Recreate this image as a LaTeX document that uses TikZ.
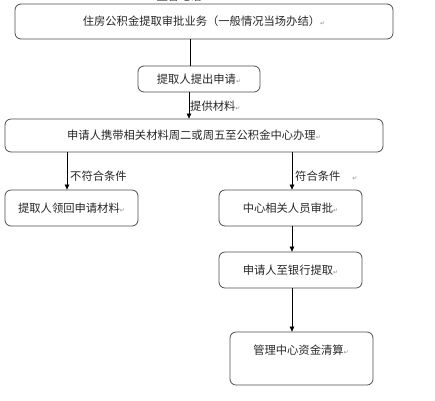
\documentclass[tikz,border=0pt]{standalone}
\usepackage{fontspec}
\setmainfont{Noto Sans CJK SC}
\newfontfamily\symf{DejaVu Sans}
\usetikzlibrary{arrows.meta}
\newcommand{\retmark}{{\color{black!45}\symf\fontsize{6}{6}\selectfont ↵}}
\begin{document}
\begin{tikzpicture}[x=1pt,y=-1pt,
  font=\fontsize{11.3}{12}\selectfont,
  box/.style={draw=black!70, rounded corners=6pt, line width=0.8pt, inner sep=0pt, text=black!85},
  conn/.style={draw=black, line width=0.7pt},
  arr/.style={conn, -{Triangle[length=5pt,width=4.5pt]}},
  lbl/.style={inner sep=1pt, text=black!85, anchor=west}]
\useasboundingbox (0,0) rectangle (435,400);
% clipped header text
\node[anchor=west, text=black!80] (hdr) at (153,-4) {监督电话：};
% boxes
\node[box, minimum width=378pt, minimum height=35pt] (b1) at (204,21.5) {住房公积金提取审批业务（一般情况当场办结）\retmark};
\node[box, minimum width=122pt, minimum height=26pt] (b2) at (199,79) {提取人提出申请\retmark};
\node[box, minimum width=378pt, minimum height=33pt] (b3) at (194,135.5) {申请人携带相关材料周二或周五至公积金中心办理\retmark};
\node[box, minimum width=133pt, minimum height=36pt] (b4) at (71.5,208) {提取人领回申请材料\retmark};
\node[box, minimum width=143pt, minimum height=36pt] (b5) at (290.5,208) {中心相关人员审批\retmark};
\node[box, minimum width=143pt, minimum height=36pt] (b6) at (290.5,270) {申请人至银行提取\retmark};
\node[box, minimum width=143pt, minimum height=53pt] (b7) at (301.5,358.5) {};
\node[text=black!85, inner sep=0pt] (b7t) at (301,350) {管理中心资金清算\retmark};
% columns
\coordinate (ca) at (190,0);
\coordinate (cb) at (189,0);
\coordinate (cl) at (67,0);
\coordinate (cr) at (292,0);
% connectors
\draw[conn] (b1.south -| ca) -- (b2.north -| ca);
\draw[arr] (b2.south -| cb) -- (b3.north -| cb);
\draw[arr] (b3.south -| cl) -- (b4.north -| cl);
\draw[arr] (b3.south -| cr) -- (b5.north -| cr);
\draw[arr] (b5.south -| cr) -- (b6.north -| cr);
\draw[arr] (b6.south -| cr) -- (b7.north -| cr);
% labels
\node[lbl] (l1) at (189,106) {提供材料\retmark};
\node[lbl] (l2) at (69,176) {不符合条件};
\node[lbl] (l3) at (294,176) {符合条件\hspace{12pt}\retmark};
\end{tikzpicture}
\end{document}
